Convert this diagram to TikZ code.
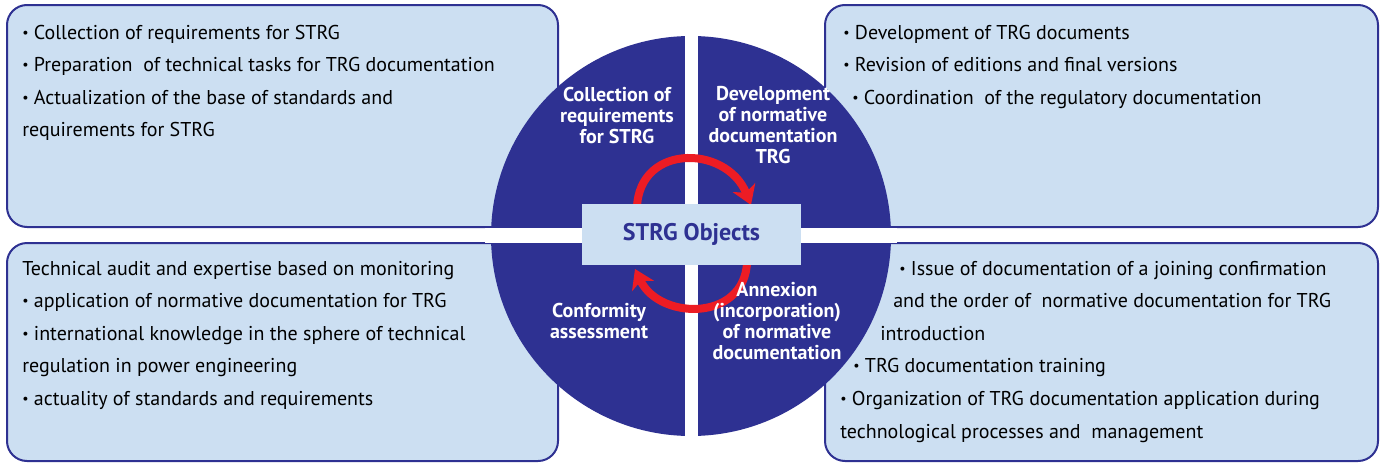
\documentclass[tikz,border=0pt]{standalone}
\usepackage{fontspec}
\setmainfont{PT Sans}
\usetikzlibrary{arrows.meta}

\definecolor{navy}{RGB}{46,49,146}
\definecolor{paleblue}{RGB}{204,223,242}
\definecolor{loopred}{RGB}{237,28,36}

% small list bullet
\newcommand\bul{\raisebox{.08em}{\scalebox{.7}{•}}}

\tikzset{
  panel/.style={draw=navy, fill=paleblue, line width=1.5pt, rounded corners=15pt},
  item/.style={anchor=base west, inner sep=0pt, font=\fontsize{15}{18}\selectfont},
  sector/.style={align=center, text=white, inner sep=0pt, font=\bfseries\fontsize{15}{15.75}\selectfont},
  turn/.style={draw=loopred, line width=6pt, -{Stealth[length=14pt,width=18pt,inset=4pt]}},
  objbox/.style={fill=paleblue, text=navy, minimum width=164pt, minimum height=46pt, font=\bfseries\fontsize{18}{20}\selectfont}
}

\begin{document}
\begin{tikzpicture}[x=0.75pt,y=0.75pt,yscale=-1,xscale=1]
\useasboundingbox (0,0) rectangle (1384,464);

% four panels
\draw[panel] (7,5) rectangle (558,227);
\draw[panel] (825,5) rectangle (1378,227);
\draw[panel] (7,243) rectangle (558,461);
\draw[panel] (825,243) rectangle (1378,461);

% disc cut into quarters
\fill[navy] (691,236) circle (150pt);
\fill[white] (685,30) rectangle (698,442);
\fill[white] (485,228) rectangle (897,243);

% red loop round the centre
\draw[turn] (637,215) .. controls (633,143) and (726,143) .. (751,205);
\draw[turn] (747,255) .. controls (751,322) and (660,322) .. (635,269);

\node[objbox] (obj) at (691.5,234.5) {STRG Objects};

% labels of the quarters
\node[sector] (collect) at (617,115) {Collection of\\requirements\\for STRG};
\node[sector] (develop) at (773,125) {Development\\of normative\\documentation\\TRG};
\node[sector] (conform) at (599,321) {Conformity\\assessment};
\node[sector] (annex) at (777,321) {Annexion\\(incorporation)\\of normative\\documentation};

% top left
\foreach \x/\y/\t [count=\i] in {
  22/39/{\bul{} Collection of requirements for STRG},
  22/71/{\bul{} Preparation\ \ of technical tasks for TRG documentation},
  22/104/{\bul{} Actualization of the base of standards and},
  22/136/{requirements for STRG}}
  \node[item] (tl\i) at (\x,\y) {\t};

% top right
\foreach \x/\y/\t [count=\i] in {
  843/39/{\bul{} Development of TRG documents},
  843/71/{\bul{} Revision of editions and final versions},
  852/104/{\bul{} Coordination\ \ of the regulatory documentation}}
  \node[item] (tr\i) at (\x,\y) {\t};

% bottom left
\foreach \x/\y/\t [count=\i] in {
  22/275/{Technical audit and expertise based on monitoring},
  22/307/{\bul{} application of normative documentation for TRG},
  22/340/{\bul{} international knowledge in the sphere of technical},
  22/372/{regulation in power engineering},
  22/405/{\bul{} actuality of standards and requirements}}
  \node[item] (bl\i) at (\x,\y) {\t};

% bottom right
\foreach \x/\y/\t [count=\i] in {
  899/275/{\bul{} Issue of documentation of a joining confirmation},
  893/307/{and the order of\ \ normative documentation for TRG},
  880/340/{introduction},
  853/372/{\bul{} TRG documentation training},
  840/405/{\bul{} Organization of TRG documentation application during},
  840/438/{technological processes and\ \ management}}
  \node[item] (br\i) at (\x,\y) {\t};

\end{tikzpicture}
\end{document}
